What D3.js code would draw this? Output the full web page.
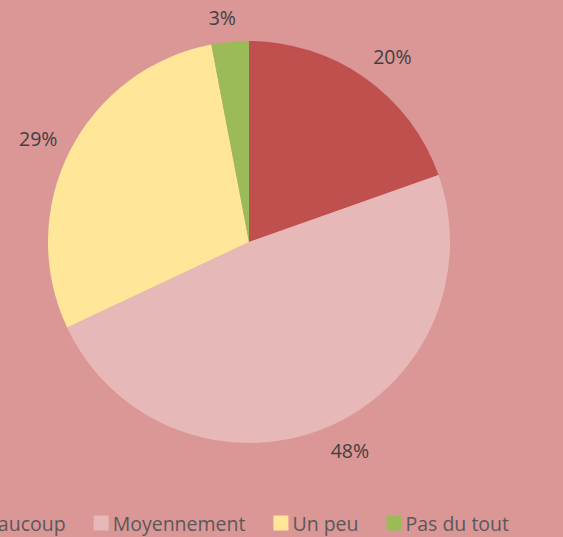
<!DOCTYPE html>
<html>
<head>
<meta charset="utf-8">
<script src="https://cdn.jsdelivr.net/npm/d3@7"></script>
<style>
  html, body { margin: 0; padding: 0; background: #DB9696; overflow: hidden; }
  svg { display: block; }
</style>
</head>
<body>
<svg></svg>
<script>
const categories = ['Beaucoup', 'Moyennement', 'Un peu', 'Pas du tout'];
const values = [19.6, 48.4, 29, 3];
const labels = ['20%', '48%', '29%', '3%'];
const colors = ['#C0504D', '#E6B9B8', '#FFE699', '#9BBB59'];

const width = 563;
const height = 537;
const cx = 249;
const cy = 242;
const radius = 201;

const svg = d3.select('svg').attr('width', width).attr('height', height);

svg.append('rect')
  .attr('width', width)
  .attr('height', height)
  .attr('fill', '#DB9696');

const pie = d3.pie().sort(null).value((d) => d);
const arcs = pie(values);

const arc = d3.arc().innerRadius(0).outerRadius(radius);

const g = svg.append('g').attr('transform', 'translate(' + cx + ',' + cy + ')');

g.selectAll('path')
  .data(arcs)
  .enter()
  .append('path')
  .attr('d', arc)
  .attr('fill', (d, i) => colors[i]);

// data labels just outside the slice (box corner sits next to the arc midpoint)
const lbl = g.selectAll('text')
  .data(arcs)
  .enter()
  .append('text')
  .attr('text-anchor', 'middle')
  .attr('dominant-baseline', 'central')
  .attr('font-family', 'Open Sans, sans-serif')
  .attr('font-size', '19.5px')
  .attr('fill', '#404040')
  .text((d, i) => labels[i]);

lbl.attr('transform', function (d) {
  const a = (d.startAngle + d.endAngle) / 2;
  const hw = this.getComputedTextLength() / 2;
  const hh = 10;
  const dist = radius + 14;
  const s = Math.sin(a);
  const c = Math.cos(a);
  const ox = hw * Math.sign(s) * Math.min(1, Math.abs(s) * 5);
  const oy = -hh * Math.sign(c) * Math.min(1, Math.abs(c) * 1.25);
  return 'translate(' + (s * dist + ox) + ',' + (-c * dist + oy) + ')';
});

// legend
const legend = svg.append('g');
const items = legend.selectAll('g')
  .data(categories)
  .enter()
  .append('g');

items.append('rect')
  .attr('width', 15)
  .attr('height', 15)
  .attr('y', -7.5)
  .attr('fill', (d, i) => colors[i]);

items.append('text')
  .attr('x', 19)
  .attr('dominant-baseline', 'central')
  .attr('font-family', 'Open Sans, sans-serif')
  .attr('font-size', '19.5px')
  .attr('fill', '#595959')
  .text((d) => d);

let x = 0;
const offsets = [];
items.each(function () {
  offsets.push(x);
  const w = d3.select(this).select('text').node().getComputedTextLength();
  x += 19 + w + 28;
});
items.attr('transform', (d, i) => 'translate(' + offsets[i] + ',0)');
const totalWidth = x - 28;
legend.attr('transform', 'translate(' + (509 - totalWidth) + ',523)');
</script>
</body>
</html>
